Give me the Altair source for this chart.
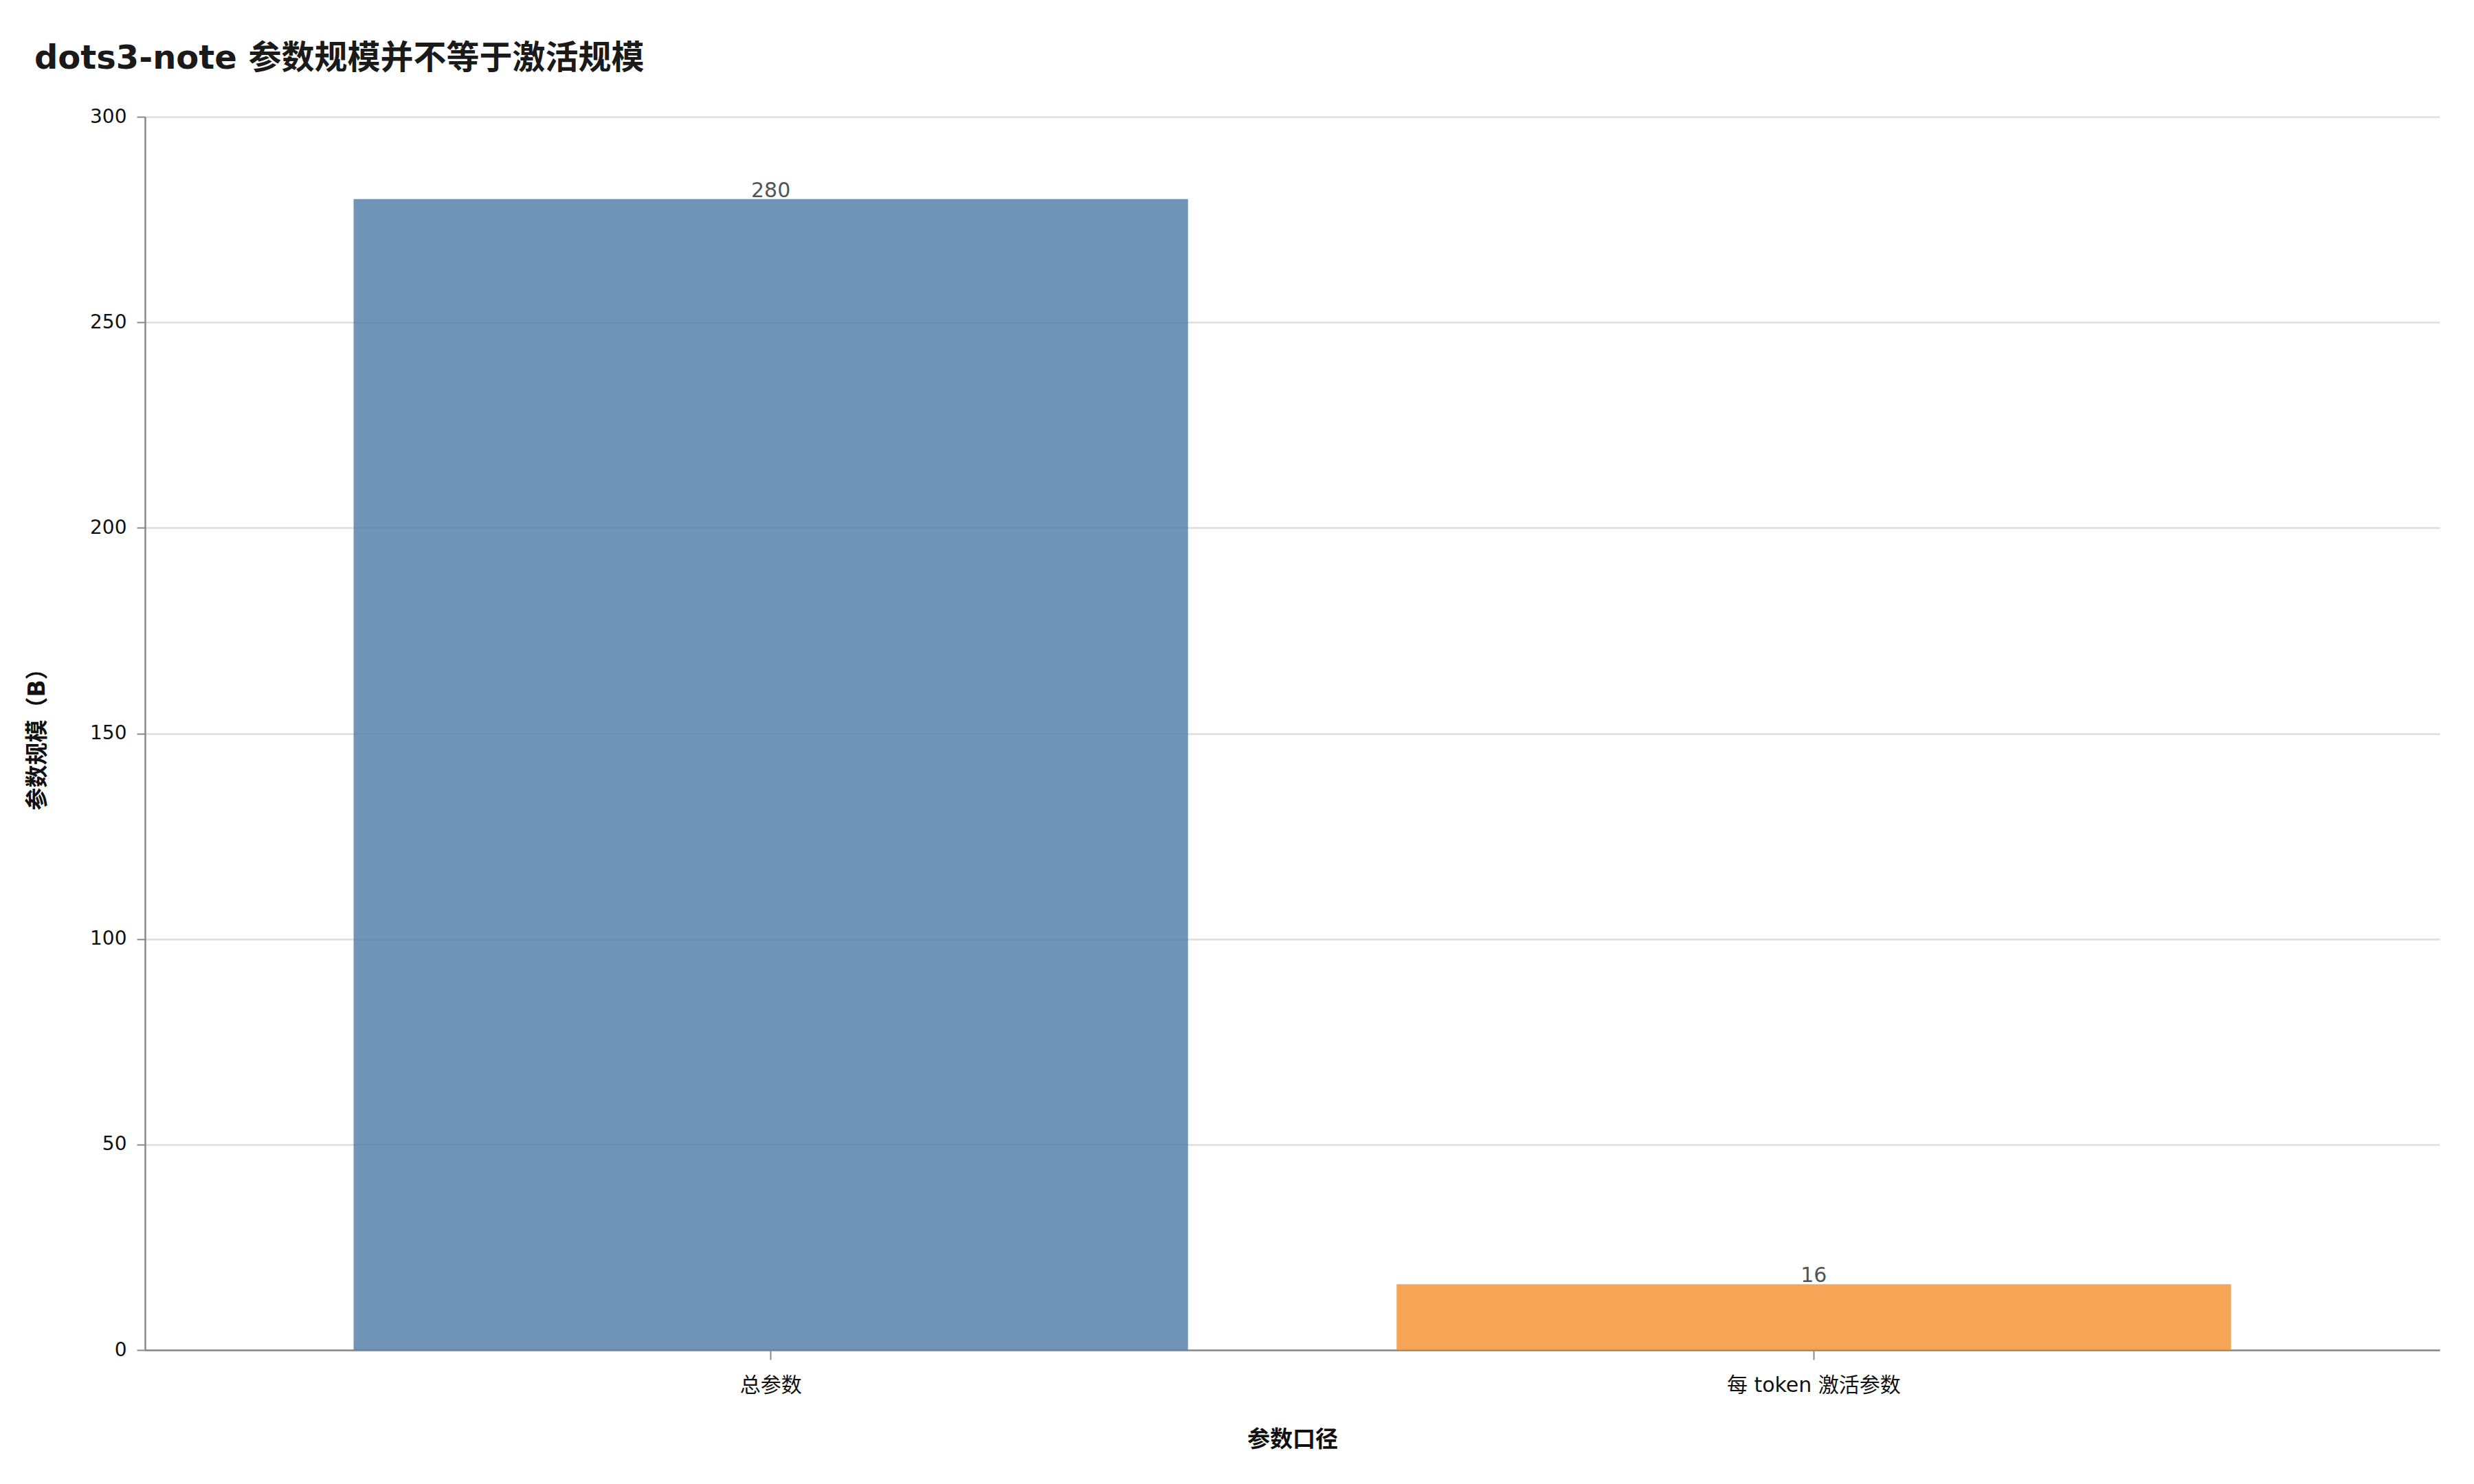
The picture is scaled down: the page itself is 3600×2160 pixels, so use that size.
import altair as alt
import pandas as pd

categories = ["总参数", "每 token 激活参数"]
values = [280, 16]
bar_colors = ["#4e79a7", "#f28e2b"]
y_ticks = [0, 50, 100, 150, 200, 250, 300]

title_text = "dots3-note 参数规模并不等于激活规模"
x_title = "参数口径"
y_title = "参数规模（B）"

FONT = "DejaVu Sans, 'Noto Sans CJK SC', sans-serif"

df = pd.DataFrame({"口径": categories, "值": values})

base = alt.Chart(df).encode(
    x=alt.X(
        "口径:N",
        sort=categories,
        title=x_title,
        scale=alt.Scale(paddingInner=0.2, paddingOuter=0.2),
        axis=alt.Axis(
            labelAngle=0,
            labelFontSize=30,
            labelColor="#111111",
            labelPadding=22,
            labelLimit=0,
            tickSize=14,
            tickWidth=2,
            tickColor="#888888",
            domainColor="#888888",
            domainWidth=2.5,
            grid=False,
            titleFontSize=33,
            titleFontWeight="bold",
            titleColor="#111111",
            titlePadding=48,
        ),
    ),
    y=alt.Y(
        "值:Q",
        title=y_title,
        scale=alt.Scale(domain=[0, 300], nice=False),
        axis=alt.Axis(
            values=y_ticks,
            labelFontSize=28,
            labelColor="#111111",
            labelPadding=15,
            tickSize=12,
            tickWidth=2,
            tickColor="#888888",
            domainColor="#888888",
            domainWidth=2.5,
            grid=True,
            gridColor="#dddddd",
            gridWidth=2.5,
            titleFontSize=33,
            titleFontWeight="bold",
            titleColor="#111111",
            titlePadding=59,
        ),
    ),
)

bars = base.mark_bar(opacity=0.8).encode(
    color=alt.Color(
        "口径:N",
        scale=alt.Scale(domain=categories, range=bar_colors),
        legend=None,
    )
)

labels = base.mark_text(
    baseline="bottom", dy=3, fontSize=30, color="#555555", font=FONT
).encode(text=alt.Text("值:Q"))

chart = (
    alt.layer(bars, labels)
    .properties(
        width=3339,
        height=1795,
        autosize=alt.AutoSizeParams(type="none"),
        padding={"left": 203, "top": 162, "right": 42, "bottom": 187},
        title=alt.Title(
            title_text,
            anchor="start",
            frame="group",
            dx=-161,
            offset=46,
            fontSize=48,
            fontWeight="bold",
            color="#1a1a1a",
            font=FONT,
        ),
    )
    .configure(font=FONT)
    .configure_view(stroke=None)
    .configure_axis(labelFont=FONT, titleFont=FONT)
)

chart.save("out.html", embed_options={"renderer": "svg", "actions": False})
